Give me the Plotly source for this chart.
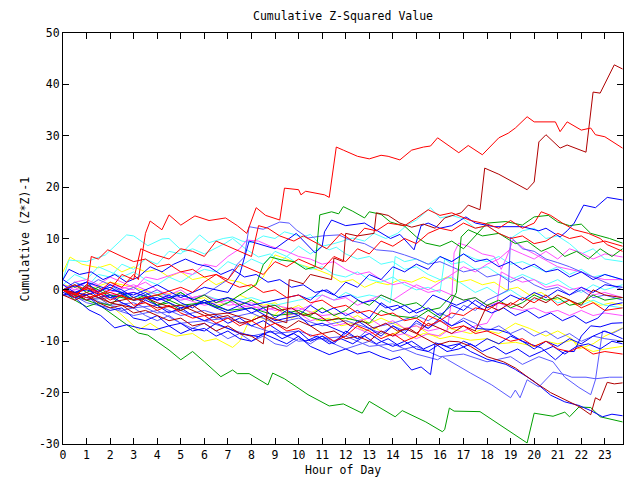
import plotly.graph_objects as go

# ---- data: each series is a list of [hour, cumulative value] vertices ----
red_top = [[0,0],[0.5,-1],[1,0.5],[1.5,-0.5],[2,1.5],[2.5,0.5],[3,3],[3.2,2],[3.5,11],[3.7,13.4],[4.2,11.7],[4.5,14.6],[5.0,12.6],[5.6,14.4],[6.2,13.5],[6.9,14],[7.4,12.5],[7.8,11],[8.2,16],[8.6,14.5],[9.2,13.6],[9.4,19.8],[10,19.5],[10.1,18.5],[10.3,19.2],[11.1,18.5],[11.3,18],[11.6,27.8],[11.9,27.2],[12.5,26],[13,25.5],[13.5,26.2],[13.8,26],[14.3,25.3],[14.8,27.2],[15.3,27.8],[15.6,28],[15.9,29.6],[16.8,26.7],[17.2,28.1],[17.8,26.3],[18.5,29.6],[18.9,30.5],[19.2,31.5],[19.7,33.7],[20.0,32.7],[20.9,32.7],[21.1,30.8],[21.4,32.7],[22,31.1],[22.4,31.5],[22.6,30.2],[23,29.8],[23.75,27.6]]
dred_top = [[0,0],[0.5,-1.5],[1,-0.5],[2,-2.5],[3,-1.5],[4,-3.5],[5,-3],[6,-5],[7,-4.5],[8,-6],[8.5,-5],[9.5,-6.4],[9.6,2],[10.2,1.2],[10.5,3],[11.4,2],[11.5,6.2],[11.9,5.5],[12.0,11],[12.5,10.5],[13.2,11],[13.3,15],[13.8,14.5],[14.3,13],[14.8,12.2],[15.3,12.8],[15.8,12],[16.2,14],[16.9,15],[17.2,16.5],[17.7,15.6],[17.9,23.7],[18.5,22.5],[19.0,21.3],[19.4,20.3],[19.7,19.5],[20.0,21],[20.2,28.8],[20.5,30.2],[21.1,27.6],[21.4,28.2],[22.2,26.8],[22.5,38.5],[22.8,38.3],[23.4,43.8],[23.75,43]]
green_low = [[0,0],[0.5,-1],[1,-2],[1.5,-2.8],[2.4,-5.8],[3.2,-8.4],[3.6,-8.8],[4.5,-11.7],[5,-13.6],[5.5,-12],[6,-14],[6.7,-16.9],[7.2,-15.6],[7.4,-16.3],[7.9,-16.3],[8.7,-18.5],[8.9,-16.2],[9.4,-17.3],[10.4,-20.4],[11.3,-22.6],[11.9,-22.2],[12.7,-24],[13.0,-21.7],[14.1,-24.7],[14.4,-23.5],[15.4,-25.7],[16.1,-27.6],[16.2,-27.2],[16.4,-23],[16.6,-23.6],[17.7,-23.7],[19.7,-29.8],[20.0,-24],[20.8,-24.6],[21.3,-23.8],[21.5,-24.7],[21.9,-22.8],[22.4,-22.9],[22.8,-24.7],[23.75,-25.7]]
blue_high = [[0,0],[1,1.5],[2,0],[3,-1],[4,1],[5,-1.5],[6,0.5],[7,-0.5],[7.5,3],[7.9,9.5],[9,8],[9.9,11],[10.7,7.2],[11.0,8.5],[11.1,11.3],[11.4,13.6],[12,12.5],[12.8,13],[13.9,10],[14.3,10.8],[14.9,7.8],[15.2,12.5],[15.5,13],[16,12],[16.5,12.5],[17.1,14.2],[17.5,13],[18.3,12.3],[19.5,12.3],[20.2,11.5],[20.5,12],[21.1,10.3],[21.4,11.5],[21.7,13],[22.1,16.5],[22.6,16],[23.1,18],[23.75,17.5]]
cyan_a = [[0,2],[0.25,5.8],[1,5.5],[1.8,6.8],[2.7,10.7],[3.0,10.5],[3.6,8.6],[4.2,9.9],[4.5,10],[5.1,7.4],[5.5,8],[6,7],[6.9,9.1],[7.2,10],[7.8,7.8],[8.3,6.4],[8.8,7],[9.2,5.5],[9.5,6.5],[10,5],[10.5,4],[11,4.5],[11.5,3],[12,2.5],[12.5,3.5],[13,2],[13.5,1.5],[14,2.5],[14.5,1],[15,0],[15.5,0.5],[16,-0.5],[16.2,6],[16.5,5],[17,5.5],[17.5,4],[18,4.5],[18.5,3],[19,2],[19.5,3],[20,2],[20.5,1],[21,2],[21.5,0.5],[22,-0.5],[22.5,1],[23,0],[23.75,1]]
cyan_b = [[0,0],[0.5,1.5],[1,0.5],[1.5,3],[2,2.5],[2.5,5],[3,4],[3.5,6],[4,5],[4.5,7.5],[5,7],[5.8,10.7],[6.2,9.2],[6.8,10],[7.2,10.3],[7.6,9.5],[8.0,9.2],[8.5,10.5],[9.0,10],[9.4,11.3],[10.2,10.3],[10.5,10.8],[11,8.5],[11.3,7.8],[11.6,8.3],[12,7],[12.5,6],[13,6.5],[13.5,5],[14,5.5],[14.5,4],[15,4.5],[15.5,3],[16,2],[16.5,2.5],[17,1],[17.5,-0.5],[18,0.5],[18.5,-1],[19,0],[19.5,-1.5],[20,-2],[20.5,-1],[21,-2.5],[21.5,-2],[22,-3],[22.5,-2],[23,-3],[23.75,-3.5]]
cyan_c = [[0,1],[0.5,3],[1,2],[1.5,4.5],[2,3.5],[2.5,2.5],[3,3.5],[3.5,2],[4,1],[4.5,2.5],[5,1.5],[5.5,3],[6,4],[6.5,3.5],[7,5.5],[7.5,4.5],[8,6],[8.5,5],[9,7.5],[9.5,6.5],[10,8.5],[10.5,7],[11,8.5],[11.5,9],[12.3,10.1],[12.8,9.5],[13.2,11],[13.7,10],[14.2,11],[14.6,12.6],[15,13.6],[15.6,16],[16,14],[16.5,14.5],[17,13.8],[17.5,12],[18,12.5],[18.5,11],[19,10],[19.5,11.5],[20,12],[20.5,10],[21,10.5],[21.5,9],[22,7],[22.5,8],[23,6],[23.75,5.5]]
cyan_d = [[0,0],[1,-1],[2,0.5],[3,-1.5],[4,-0.5],[5,-2],[6,-1],[7,-2.5],[8,-1.5],[9,-3],[10,-2],[11,-1],[11.5,-2],[12,-0.5],[12.5,-1.5],[13,-1],[13.5,-1.5],[13.9,-2.5],[14.1,6.5],[14.5,5.5],[15,6],[15.5,5],[16,6.5],[16.5,5.5],[17,7],[17.5,6],[18,5.5],[18.5,6.5],[19,5],[19.5,5.5],[20,4.5],[20.5,3.5],[21,4.5],[21.5,3],[22,4],[22.5,2.5],[23,3],[23.75,2]]
green_mid1 = [[0,0],[0.5,-1],[1,1],[1.5,0],[2,-1.5],[2.5,-0.5],[3,-2],[3.5,-1.5],[4,-3],[4.5,-2.5],[5,-4],[5.5,-3],[6,-2],[6.5,-3.5],[7,-2.5],[7.5,-1],[8.2,1],[8.5,4.9],[8.8,6.4],[9.3,5.8],[9.8,5.5],[10.3,4],[10.7,4.5],[10.9,14.6],[11.4,15.2],[11.7,14.8],[11.9,16.2],[12.3,15.3],[12.8,14],[13,15.2],[13.5,14.7],[13.9,13.2],[14.5,12.4],[15,10.3],[15.4,9.1],[16,8.5],[16.5,9.5],[17,8],[17.5,10.5],[18,13],[18.8,13.3],[19.5,12.6],[20,14.2],[20.6,14.5],[21,13.2],[21.5,12.5],[22,12.8],[22.4,11],[22.8,10.5],[23.2,10],[23.75,9.1]]
green_mid2 = [[0,0],[0.5,1],[1,-0.5],[1.5,0.5],[2,-1],[3,-2],[4,-1],[5,-3],[6,-2.5],[7,-4],[8,-3.5],[9,-5],[10,-4.5],[11,-6],[12,-5.5],[13,-6.5],[13.5,-4],[14,-5],[15,-5.5],[15.5,-4],[16,-5.5],[16.4,-3],[16.7,-0.5],[16.9,10.3],[17.2,11.7],[17.8,10.5],[18.5,11],[19.2,9],[19.7,9.5],[20.3,7.5],[20.8,8.5],[21.3,6.5],[21.8,7.5],[22.3,6],[22.8,8],[23.3,6.5],[23.75,8]]
green_c = [[0,0],[0.5,-2],[1,-3.3],[1.5,-2.5],[2,-3],[2.5,-1],[3,-2],[3.5,-1],[4,-3],[4.5,-2],[5,-0.5],[5.5,-2],[6,-1],[6.5,-2.5],[7,-1.5],[7.5,-3],[8,-2],[8.5,-3.5],[9,-3],[9.5,-4.5],[10,-4],[10.5,-5],[11,-3.5],[11.5,-5],[12,-4],[12.5,-2],[13,-3],[13.5,-1],[14,-2],[14.5,-3],[15,-2.5],[15.5,-4],[16,-3.5],[16.5,-1],[17,-2],[17.5,-1.5],[18,-3],[18.5,-2],[19,-3.5],[19.5,-2.5],[20,-1],[20.5,-2],[21,-1.5],[21.5,-3],[22,-2.5],[22.5,-1],[23,-2],[23.75,-1.5]]
blue_b = [[0,0],[0.5,-1.5],[1,-1],[1.5,-3],[2,-4],[2.5,-3.5],[3,-5.5],[3.5,-6],[4,-5],[4.5,-7],[5,-6.5],[5.5,-8],[6,-7.5],[6.5,-9],[7,-8],[7.5,-9.5],[8,-10],[8.5,-8.5],[9,-9.5],[9.5,-10.5],[10,-9],[10.5,-11],[11,-12],[11.3,-12.6],[12,-11.5],[12.5,-12.5],[13,-12],[13.5,-13],[13.9,-13.6],[14.3,-13],[14.8,-15.6],[15.2,-15],[15.6,-16.5],[15.8,-10.3],[16.3,-11],[16.8,-10.5],[17.3,-12],[18,-13.5],[18.8,-14.5],[19.2,-15.5],[20,-17.8],[20.7,-20.5],[21.3,-21.8],[21.9,-22.5],[22.4,-23.5],[22.9,-24.7],[23.3,-24.2],[23.75,-24.5]]
blue_c = [[0,0],[1,-1],[2,0.5],[3,-2],[4,-1.5],[5,-3.5],[6,-2.5],[7,-4.5],[8,-3.5],[9,-6],[10,-5],[10.5,-7],[11,-6.5],[12,-8.5],[12.5,-6],[13,-7.5],[13.5,-9],[14,-7],[14.5,-8.5],[15,-6],[15.5,-7.5],[16,-5.5],[16.5,-7],[17,-6],[17.5,-7.5],[18.5,-7.8],[18.9,-8.4],[19.5,-10],[20.3,-11.3],[20.9,-13.6],[21.3,-12],[21.7,-12],[22,-9],[22.4,-7],[22.8,-7.2],[23.3,-6.5],[23.75,-6.4]]
blue_d = [[0,2],[0.5,0.5],[1,1.5],[1.5,-0.5],[2,1],[2.5,0],[3,-1.5],[3.5,-0.5],[4,-2],[4.5,-1],[5,-2.5],[5.5,-3.5],[6,-2],[6.5,-3],[7,-4],[7.5,-3],[8,-4.5],[8.5,-3.5],[9,-5.5],[9.5,-4],[10,-5],[10.5,-3],[11,-4.5],[11.5,-3.5],[12,-5],[12.5,-4],[13,-5.5],[13.5,-2.5],[14,-4],[14.5,-3],[15,-4.5],[15.5,-3.5],[16,-5],[16.5,-3],[17,-4],[17.5,-2],[18,-3.5],[18.5,-2.5],[19,-1],[19.5,-2],[20,-0.5],[20.5,-1.5],[21,0],[21.5,-1],[22,0.5],[22.5,-0.5],[23,1],[23.75,0.5]]
blue_e = [[0,2],[0.25,4],[0.7,3],[1.2,3.5],[1.7,2],[2.2,3],[2.7,1.5],[3.2,2.5],[3.7,4.5],[4.2,3.5],[4.7,5],[5.2,6],[5.7,5],[6.2,4.5],[6.7,3],[7.2,4],[7.7,2.5],[8.2,3],[8.7,1.5],[9.2,2],[9.7,0.5],[10.2,1],[10.7,-0.5],[11.2,0],[11.7,-1.5],[12.2,-1],[12.7,-2.5],[13.2,-2],[13.7,-3.5],[14.2,-3],[14.7,-4.5],[15.2,-3.5],[15.7,-1],[16.2,-2],[16.7,-3],[17.2,-2],[17.7,-3.5],[18.2,-4.5],[18.7,-3.5],[19.2,-5],[19.7,-4],[20.2,-5.5],[20.7,-4.5],[21.2,-6],[21.7,-5],[22.2,-6.5],[22.7,-5.5],[23.2,-3],[23.75,-2.5]]
blue_f = [[0,-0.5],[0.5,-1.5],[1.1,-3.9],[1.6,-5],[2.2,-7.4],[2.7,-6.8],[3.3,-7.5],[3.9,-7.8],[4.5,-7],[5,-8.5],[5.5,-7.5],[6,-8],[6.5,-6.5],[7,-7.5],[7.5,-8.5],[8.3,-9.1],[8.8,-8],[9.3,-9.5],[9.8,-8.5],[10.3,-10],[10.8,-9],[11.3,-10.5],[11.8,-9.5],[12.3,-10.5],[12.8,-9],[13.3,-10.5],[13.8,-9.5],[14.3,-11],[14.8,-10],[15.3,-11.5],[15.8,-10.5],[16.3,-12],[16.8,-11.5],[17.3,-10.5],[17.8,-12],[18.3,-11],[18.8,-12.5],[19.3,-11.5],[19.8,-13],[20.3,-12],[20.8,-11],[21.3,-12.5],[21.8,-11],[22.3,-10.5],[22.8,-11.5],[23.3,-10],[23.75,-10.5]]
blue_g = [[0,1],[0.5,-0.5],[1,0.5],[1.5,-1.5],[2,-1],[2.5,-2.5],[3,-3.5],[3.5,-2],[4,-3],[4.5,-4.5],[5,-3.5],[5.5,-5],[6,-6],[6.5,-5],[7,-6.5],[7.5,-5.5],[8,-7],[8.5,-6],[9,-7.5],[9.5,-9],[10,-8],[10.5,-10],[11,-9],[11.5,-10.5],[12,-8],[12.5,-9.5],[13,-8.5],[13.5,-10],[14,-11],[14.5,-10],[15,-11.5],[15.5,-12],[16,-10.5],[16.5,-11.5],[17,-10],[17.5,-11],[18,-9.5],[18.5,-10.5],[19,-9],[19.5,-10],[20,-11.5],[20.5,-10],[21,-11],[21.5,-9.5],[22,-10.5],[22.5,-9],[23,-8],[23.75,-9.5]]
blue_h = [[0,-1],[1,0],[2,-1.5],[3,-0.5],[4,-2],[5,-1],[6,-2.5],[7,-1.5],[8,-3],[9,-2],[10,-1],[10.5,-2],[11,0],[11.5,-1],[12,1.5],[12.5,0.5],[13,3],[13.5,2],[14,4.5],[14.5,3.5],[15,5],[15.5,4],[16,6.5],[16.5,5.5],[17,7],[17.5,5.5],[18,6],[18.5,4.5],[19,5.5],[19.5,4],[20,5],[20.5,3.5],[21,4],[21.5,2.5],[22,3.5],[22.5,2],[23,3],[23.75,2]]
slate_a = [[0,0],[1,-1.5],[2,-3],[3,-2.5],[4,-4.5],[5,-4],[6,-6],[7,-5.5],[8,-7],[9,-8.5],[10,-8],[11,-9.5],[12,-9],[13,-11],[14,-10.5],[15,-12.5],[15.9,-13.6],[16.1,-13],[17.3,-16.2],[18.2,-18.5],[19,-21],[19.2,-19.5],[19.4,-21],[19.7,-17.5],[20.2,-18.9],[20.8,-16],[21.3,-16.5],[21.6,-17],[22.2,-17],[22.6,-17.3],[23.2,-17],[23.75,-17]]
slate_b = [[0,0],[1,-2.5],[2,-3.5],[3,-5],[4,-4],[5,-6.5],[6,-6],[7,-7.5],[8,-9],[9,-8],[10,-10],[11,-9.5],[12,-11.5],[13,-10],[14,-12],[15,-11],[16,-13],[17,-12.5],[18,-14],[19,-13],[19.5,-14.5],[20.2,-13],[20.8,-14],[21.3,-17],[21.9,-19],[22.4,-20.4],[22.6,-17.5],[22.9,-8],[23.3,-8.5],[23.75,-7.5]]
slate_c = [[0,0],[0.5,1.5],[1,0.5],[1.5,2],[2,1],[2.5,-0.5],[3,0.5],[3.5,-1],[4,0],[4.5,-1.5],[5,-0.5],[5.5,-2],[6,-1],[6.5,0.5],[7,2],[7.4,5],[7.7,6.4],[7.9,12.3],[8.5,11.8],[9.2,13.2],[9.6,13],[9.9,11.7],[10.4,10.1],[11,10.5],[11.7,10.7],[12.3,9.5],[12.8,9],[13.3,7.8],[14,7.5],[14.5,6.8],[15,6],[15.5,5],[16,5.5],[16.5,4.5],[17,3.5],[17.5,4],[18,2.5],[18.5,3],[19,1.5],[19.5,2.5],[20,1],[20.5,0],[21,0.5],[21.5,-1],[22,0],[22.5,-1.5],[23,-1],[23.75,-2]]
slate_d = [[0,-1],[1,-2],[2,-1.5],[3,-3.5],[4,-3],[5,-5],[6,-4],[7,-5.5],[8,-4.5],[9,-6.5],[10,-5.5],[11,-7],[12,-6],[13,-7.5],[14,-6.5],[15,-5],[15.5,-6],[16,-4.5],[16.5,-5.5],[17,-3],[17.5,-4],[18,-2],[18.5,-1],[18.9,0],[19,10.3],[19.5,8],[20,7.5],[20.5,6],[21,5.3],[21.5,4.5],[22,3.5],[22.5,2.5],[23,1.5],[23.75,0]]
slate_e = [[0,0],[0.5,-1],[1,-2],[1.5,-1.5],[2,-3],[2.5,-4],[3,-3.5],[3.5,-5],[4,-6],[4.5,-5],[5,-6.5],[5.5,-7.5],[6,-6.5],[6.5,-8],[7,-9.5],[7.5,-8.5],[8,-10],[8.5,-9],[9,-10.5],[9.5,-11],[10,-9.5],[10.5,-10.5],[11,-9],[11.5,-10],[12,-8.5],[12.5,-9.5],[13,-7.5],[13.5,-8.5],[14,-7],[14.5,-8],[15,-6.5],[15.5,-7.5],[16,-6],[16.5,-7],[17,-5.5],[17.5,-6.5],[18,-8],[18.5,-7],[19,-8.5],[19.5,-7.5],[20,-9],[20.5,-8],[21,-9.5],[21.5,-8.5],[22,-10],[22.5,-9],[23,-9.5],[23.75,-10]]
mag_a = [[0,0],[0.5,1.5],[1,2],[1.5,1],[2,2.5],[2.5,1.5],[3,0.5],[3.5,1.5],[4,0],[4.5,-1],[5,0],[5.5,-1.5],[6,-1],[6.5,-2.5],[7,-2],[7.5,-3.5],[8,-3],[8.5,-4],[9,-3.5],[9.5,-5],[10,-4.5],[10.5,-6],[11,-5.5],[11.5,-7],[12,-6.5],[12.5,-7.5],[13,-8.5],[13.5,-8],[14,-9],[14.5,-8.5],[15,-9.5],[15.5,-8.5],[16,-9],[16.3,-8],[16.5,-2],[16.6,7.2],[16.8,9.1],[17.2,8.5],[17.8,7],[18.3,6.5],[18.6,4],[18.8,6],[19.1,9.7],[19.6,8],[20.2,6.4],[20.6,5.5],[21,4.5],[21.5,4],[22,3.5],[22.5,2.5],[23,2],[23.75,2]]
mag_b = [[0,1],[0.5,0],[1,1.5],[1.5,0.5],[2,-0.5],[3,1],[4,-1],[5,-2],[6,-1],[7,-3],[8,-2.5],[9,-4],[10,-3.5],[11,-5],[12,-4.5],[12.5,-6],[13,-5.5],[13.5,-7],[14,-6],[14.5,-7.5],[15,-7],[15.5,-8],[16,-7.5],[16.5,-8.5],[17,-8],[17.5,-7],[18,-6.5],[18.4,-3.5],[18.6,3.5],[19,2.5],[19.5,1.5],[20,2],[20.5,0.5],[21,1],[21.5,0],[22,0.5],[22.5,-1],[23,-0.5],[23.75,-1.5]]
mag_c = [[0,0],[1,-1],[2,1],[3,0],[3.5,2.5],[4,2],[5,3.5],[5.5,3],[6,5],[6.5,4.5],[7,6.5],[7.5,8],[7.8,9.7],[8.3,9.5],[8.8,8.5],[9.5,7.5],[10,6.5],[10.5,6],[11,5],[11.5,5.5],[12,4],[12.5,3],[13,3.5],[13.5,2],[14,1],[14.5,1.5],[15,0.5],[15.5,-0.5],[16,0],[16.5,-1],[17,-2],[17.5,-1.5],[18,-3],[18.5,-2.5],[19,-3.5],[19.5,-4],[20,-3.5],[20.5,-4.5],[21,-4],[21.5,-5],[22,-4],[22.5,-5],[23,-4.5],[23.75,-5]]
mag_d = [[0,-0.5],[1,0.5],[2,-1],[3,-0.5],[4,-2],[5,-1.5],[6,-3],[7,-2],[8,-3.5],[9,-3],[10,-4],[10.5,-3],[11,-1],[11.5,-2],[12,-1.5],[12.5,-3],[13,-2],[13.5,-1],[14,-2],[14.5,-0.5],[15,1],[15.5,0],[16,1.5],[16.5,3],[17,4.5],[17.5,3.5],[18,5],[18.5,6],[19,8],[19.5,7],[20,6],[20.5,7.5],[21,6],[21.5,8],[22,7.2],[22.5,6],[23,7],[23.75,6.4]]
yel_a = [[0,3.5],[0.3,6.4],[0.8,5],[1.5,4.3],[2,5],[2.5,3.5],[3,4.5],[3.5,3.5],[4,4],[4.5,2.5],[5,3.5],[5.5,2],[6,2.5],[6.5,1],[7,2],[7.5,1.5],[8,0.5],[8.5,2.5],[9,6.8],[9.5,6],[10,5],[10.8,3.9],[11.3,3],[11.8,1.5],[12.3,2],[12.8,0.5],[13.3,1.5],[13.8,1],[14.3,2],[14.8,1.5],[15.3,2.5],[15.8,1.5],[16.3,2.5],[16.8,1.5],[17.3,2],[17.8,1],[18.3,1.5],[18.8,0],[19.3,0.5],[19.8,-1],[20.3,-0.5],[20.8,-2],[21.3,-1.5],[21.8,-3],[22.3,-2],[22.8,-3],[23.3,-2.5],[23.75,-3]]
yel_b = [[0,0],[0.5,-1],[1,-2],[1.5,-1.5],[2,-3],[2.4,-4.5],[3.2,-7.8],[3.7,-6.5],[4.2,-8],[4.8,-9],[5.5,-8.5],[6,-10],[6.5,-9.5],[7.2,-11.2],[7.5,-10],[7.8,-7],[8.2,-5],[8.7,-6],[9.2,-4],[9.7,-5.5],[10.2,-4.5],[10.8,-6],[11.3,-5.5],[11.8,-7],[12.3,-6.5],[12.8,-8],[13.3,-7.5],[13.8,-9],[14.3,-8],[14.8,-9.5],[15.3,-8.5],[15.9,-9],[16.4,-7.5],[17.3,-8.5],[17.8,-7.7],[18.5,-8.5],[19.2,-6.5],[19.8,-7.5],[20.5,-9],[21,-8],[21.6,-9.5],[21.9,-11.5],[22.5,-10.5],[23,-9],[23.75,-7.4]]
yel_c = [[0,1],[1,0],[2,1.5],[3,0.5],[4,-1],[5,-0.5],[5.5,-2],[6,-1.5],[6.5,-3],[7,-2.5],[7.5,-1],[8,-2],[8.5,-3],[9,-2.5],[9.5,-4],[10,-3],[10.5,-4.5],[11,-3.5],[11.5,-5],[12,-6],[12.5,-5],[13,-6.5],[13.5,-5.5],[14,-6.5],[14.5,-7.5],[15,-7],[15.5,-8.5],[16,-9.5],[16.5,-9],[17.3,-9.8],[18,-9.5],[18.5,-10.5],[19.2,-10.2],[20,-11],[20.5,-10],[21,-10.5],[21.6,-9.8],[22,-11],[22.5,-12],[23,-11.5],[23.75,-11]]
red_c = [[0,0],[0.5,1],[1,0],[1.2,6.5],[1.5,6],[1.9,7.8],[2.5,6.5],[3,5.5],[3.5,6],[4,4.5],[4.5,5],[5,3.5],[5.5,4],[6,2.5],[6.5,3],[7,1.5],[7.5,0.5],[8,1],[8.5,-0.5],[9,0],[9.5,-1.5],[10,-1],[10.5,-2.5],[11,-2],[11.5,-3.5],[12,-3],[12.5,-4.5],[13,-4],[13.5,-5],[14,-4.5],[14.5,-6],[15,-5.5],[15.5,-7],[16,-6],[16.5,-7.5],[17,-7],[17.5,-8.5],[18,-8],[18.5,-9],[19,-10],[19.5,-9.5],[20,-11],[20.5,-10],[21,-11.5],[21.5,-12],[22,-11],[22.5,-12.5],[23,-12],[23.75,-12.5]]
red_d = [[0,0],[0.5,-1],[1,0.5],[1.5,-1],[2,0],[2.5,3],[3,2],[3.3,8],[3.8,7],[4.5,6],[5,8],[5.5,7.5],[6,6.5],[6.5,9.5],[7,8.5],[7.5,7.5],[8,6.5],[8.3,12.5],[8.7,12],[9.2,10.5],[9.8,9.5],[10.2,10.5],[10.8,9],[11.2,8],[11.8,11],[12.3,9.5],[12.8,12],[13.3,11.5],[13.8,13],[14.5,12.5],[15,14],[15.5,15.6],[16,14.5],[16.5,15],[17.3,13.5],[18,12.8],[18.5,12],[19,13.5],[19.5,12],[20,13],[20.3,15.2],[20.7,14.5],[21.2,13],[21.7,11.7],[22.3,11],[22.8,10],[23.1,8.8],[23.5,8],[23.75,7.5]]
red_e = [[0,0],[1,-1.5],[2,-0.5],[3,-2],[4,-1],[5,0.5],[5.5,-0.5],[6,1.5],[6.5,3],[7,2],[7.5,5],[8,4],[8.5,3],[9,5.5],[9.5,4.5],[10,6],[10.5,5],[11,4],[11.5,6.5],[12,5.5],[12.5,8],[13,7],[13.5,9.5],[14,8.5],[14.5,10],[15,9],[15.5,11],[16,12],[16.5,11.5],[17,13],[17.5,12],[18,12.5],[18.5,11],[19,10],[19.5,10.5],[20,9],[20.5,9.5],[21,11],[21.5,10],[22,10.5],[22.5,9],[23,9.5],[23.75,8.5]]
red_f = [[0,0],[0.5,-1.5],[1,1],[1.5,-0.5],[2,-2],[2.5,-1],[3,-3],[3.5,-2.5],[4,-4],[4.5,-3],[5,-4.5],[5.5,-5.5],[6,-5],[6.5,-6.5],[7,-5.5],[7.5,-7],[8,-6],[8.5,-7.5],[9,-6.5],[9.5,-8],[10,-7.5],[10.5,-9],[11,-8.5],[11.5,-10],[12,-9],[12.5,-7],[13,-8],[13.5,-9.5],[14,-8.5],[14.5,-10],[15,-9],[15.5,-5],[16,-6],[16.5,-4.5],[17,-5],[17.5,-3.5],[18,-4],[18.5,-2.5],[19,-3],[19.5,-1.5],[20,-2.5],[20.5,-1],[21,-3],[21.5,-2],[22,-3.5],[22.5,-2.5],[23,-4],[23.75,-3.5]]
dred_b = [[0,-1],[0.5,-2],[1,-1],[1.5,-2.5],[2,-3.5],[2.5,-3],[3,-4.5],[3.5,-4],[4,-5],[4.5,-6],[5,-5.5],[5.5,-7],[6,-6.5],[6.5,-8],[7,-7],[7.5,-8.5],[8,-9],[8.5,-10.5],[8.7,-3],[9.2,-4],[9.7,-3.5],[10.2,-5],[10.7,-4.5],[11.2,-6],[11.7,-5.5],[12.2,-7],[12.7,-6],[13.2,-7.5],[13.7,-6.5],[14.2,-8],[14.7,-7.5],[15.2,-9],[15.9,-10.7],[16.4,-10],[16.8,-10.1],[17.3,-11],[18,-13],[18.7,-14],[19.2,-15.2],[20,-17.9],[20.7,-20],[21.3,-21.4],[21.9,-22.7],[22.4,-24.3],[22.6,-21],[22.8,-21.5],[23.1,-18],[23.4,-18.3],[23.75,-18.1]]
dred_c = [[0,0],[0.5,-0.5],[1,-2],[1.5,-1],[2,-2.5],[3,-3.5],[3.5,-1.5],[4,-2.5],[5,-4],[5.5,-3],[6,-4.5],[6.5,-5.5],[7,-5],[7.5,-6.5],[8,-6],[8.5,-5],[9,-6.5],[9.5,-7.5],[10,-6],[10.5,-7],[11,-8.5],[11.5,-8],[12,-9.5],[12.5,-9],[13,-10],[13.5,-8],[14,-9],[14.5,-7.5],[15,-8.5],[15.5,-6.5],[16,-7.5],[16.5,-8.5],[17,-7],[17.5,-8],[18,-3],[18.5,-4],[19,-2.5],[19.5,-3.5],[20,-1.5],[20.5,-2.5],[21,-1],[21.5,-2],[22,-3],[22.5,0],[23,-1],[23.75,-1.5]]

x_ticks = list(range(0, 24))
y_ticks = [-30, -20, -10, 0, 10, 20, 30, 40, 50]

RED, DRED, GREEN, BLUE = "#ff0000", "#b00000", "#00a000", "#0000ff"
SLATE, MAG, CYAN, YEL = "#5a5aff", "#ff50ff", "#50ffff", "#ffff00"

series = [
    (yel_a, YEL), (yel_b, YEL), (yel_c, YEL),
    (cyan_a, CYAN), (cyan_b, CYAN), (cyan_c, CYAN), (cyan_d, CYAN),
    (mag_a, MAG), (mag_b, MAG), (mag_c, MAG), (mag_d, MAG),
    (slate_a, SLATE), (slate_b, SLATE), (slate_c, SLATE), (slate_d, SLATE), (slate_e, SLATE),
    (green_c, GREEN), (green_mid2, GREEN), (green_mid1, GREEN), (green_low, GREEN),
    (blue_b, BLUE), (blue_c, BLUE), (blue_d, BLUE), (blue_e, BLUE), (blue_f, BLUE),
    (blue_g, BLUE), (blue_h, BLUE), (blue_high, BLUE),
    (dred_c, DRED), (dred_b, DRED), (dred_top, DRED),
    (red_f, RED), (red_e, RED), (red_d, RED), (red_c, RED), (red_top, RED),
]

fig = go.Figure()
for pts, col in series:
    fig.add_trace(go.Scatter(
        x=[p[0] for p in pts], y=[p[1] for p in pts], mode="lines",
        line=dict(color=col, width=1), hoverinfo="skip", showlegend=False))

FONT = "DejaVu Sans Mono"
axis_common = dict(showline=True, linecolor="black", linewidth=1, mirror="ticks",
                   ticks="inside", ticklen=6, tickcolor="black", showgrid=False,
                   zeroline=False, tickfont=dict(family=FONT, size=11.5, color="black"))
fig.update_xaxes(range=[0, 23.77], tickvals=x_ticks, ticktext=[str(v) for v in x_ticks], **axis_common)
fig.update_yaxes(range=[-30, 50], tickvals=y_ticks, ticktext=[str(v) for v in y_ticks], **axis_common)

fig.update_layout(
    width=640, height=480,
    margin=dict(l=63, r=17, t=33, b=36, autoexpand=False),
    paper_bgcolor="white", plot_bgcolor="white",
    title=dict(text="Cumulative Z-Squared Value", x=0.5, xref="paper", y=1 - 16/480,
               yref="container", xanchor="center", yanchor="middle",
               font=dict(family=FONT, size=11.5, color="black")),
    annotations=[
        dict(text="Hour of Day", xref="paper", yref="paper", x=0.5, y=-26/411,
             showarrow=False, xanchor="center", yanchor="middle",
             font=dict(family=FONT, size=11.5, color="black")),
        dict(text="Cumulative (Z*Z)-1", xref="paper", yref="paper", x=-38/559, y=0.5,
             showarrow=False, xanchor="center", yanchor="middle", textangle=-90,
             font=dict(family=FONT, size=11.5, color="black")),
    ],
)

fig.write_html("out.html")
